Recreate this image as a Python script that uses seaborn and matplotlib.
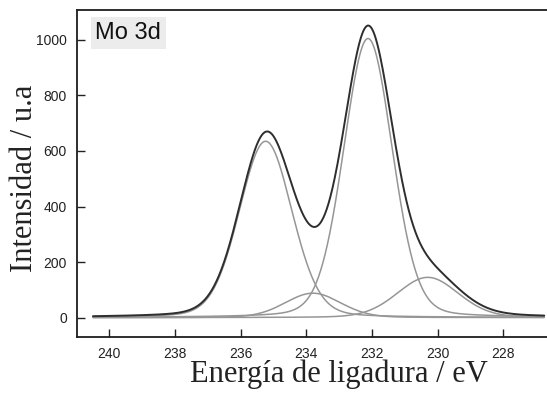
import numpy as np
import pandas as pd
import matplotlib
matplotlib.use("Agg")
import matplotlib.pyplot as plt
import seaborn as sns

# Mo 3d fitted components: position (eV), height (a.u.), FWHM (eV), Lorentzian fraction
peak_names = ["Mo6+ 3d3/2", "Mo5+ 3d3/2", "Mo6+ 3d5/2", "Mo5+ 3d5/2"]
peak_centers = [235.24, 233.80, 232.12, 230.30]
peak_heights = [635, 88, 1005, 145]
peak_fwhm = [1.90, 2.00, 1.75, 2.20]
peak_lorentz = [0.15, 0.15, 0.15, 0.15]

energy_start, energy_end = 240.5, 226.75
x_ticks = [240, 238, 236, 234, 232, 230, 228]
y_ticks = [0, 200, 400, 600, 800, 1000]


def pseudo_voigt(x, center, height, fwhm, frac):
    u = (x - center) / fwhm
    gauss = np.exp(-4 * np.log(2) * u ** 2)
    lorentz = 1.0 / (1.0 + 4 * u ** 2)
    return height * ((1 - frac) * gauss + frac * lorentz)


energy = np.linspace(energy_start, energy_end, 800)
rows = []
envelope = np.zeros_like(energy)
for name, c, h, w, m in zip(peak_names, peak_centers, peak_heights, peak_fwhm, peak_lorentz):
    y = pseudo_voigt(energy, c, h, w, m)
    envelope += y
    rows.append(pd.DataFrame({"energy": energy, "intensity": y, "component": name}))
components = pd.concat(rows, ignore_index=True)
total = pd.DataFrame({"energy": energy, "intensity": envelope})

sns.set_theme(style="ticks")
plt.rcParams["font.family"] = ["Liberation Sans", "DejaVu Sans"]

fig = plt.figure(figsize=(5.47, 3.97), dpi=100)
ax = fig.add_axes([0.14, 0.151, 0.96, 0.824])

sns.lineplot(data=components, x="energy", y="intensity", units="component",
             estimator=None, color="#969696", linewidth=1.1, ax=ax)
sns.lineplot(data=total, x="energy", y="intensity", color="#2e2e2e",
             linewidth=1.4, ax=ax)

ax.set_xlim(241.0, 225.0)
ax.set_ylim(-70, 1108)
ax.set_xticks(x_ticks)
ax.set_yticks(y_ticks)
ax.tick_params(direction="in", length=6, width=1.0, colors="#222222",
               labelsize=10, pad=7)
for side in ["left", "bottom", "top"]:
    ax.spines[side].set_color("#1e1e1e")
    ax.spines[side].set_linewidth(1.3)
ax.spines["right"].set_visible(False)

serif = ["Liberation Serif", "DejaVu Serif"]
ax.set_xlabel("Energía de ligadura / eV", fontsize=22, family=serif, color="#222222")
ax.set_ylabel("Intensidad / u.a", fontsize=22, family=serif, color="#222222")
ax.yaxis.set_label_coords(-0.072, 0.485)
ax.xaxis.set_label_coords(0.5, -0.07)

ax.text(0.036, 0.93, "Mo 3d", transform=ax.transAxes, fontsize=17,
        color="#111111", va="center", ha="left",
        bbox=dict(boxstyle="square,pad=0.2", facecolor="#ececec", edgecolor="none"))

fig.savefig("out.png", dpi=100)
